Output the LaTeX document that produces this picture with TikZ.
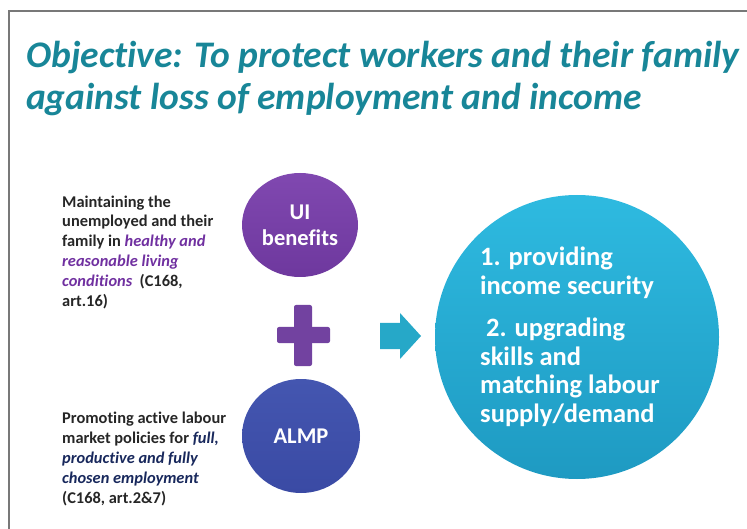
\documentclass[tikz,border=0pt]{standalone}
\usepackage{fontspec}
\setmainfont{Carlito}[Ligatures=NoCommon]
\usetikzlibrary{positioning,shapes.geometric}

\definecolor{titleteal}{RGB}{24,134,152}
\definecolor{framegray}{RGB}{120,120,120}
\definecolor{notegray}{RGB}{38,38,38}
\definecolor{uipurple}{RGB}{110,56,158}
\definecolor{uipurpletop}{RGB}{128,72,176}
\definecolor{almpblue}{RGB}{58,74,164}
\definecolor{almpbluetop}{RGB}{68,86,176}
\definecolor{goalcyan}{RGB}{30,154,194}
\definecolor{goalcyantop}{RGB}{46,186,224}
\definecolor{plusviolet}{RGB}{114,66,160}
\definecolor{arrowcyan}{RGB}{38,168,200}
\definecolor{hlpurple}{RGB}{112,48,160}
\definecolor{hlnavy}{RGB}{24,40,92}

\begin{document}
\begin{tikzpicture}[x=1pt, y=-1pt,
  note/.style={anchor=base west, align=left, inner sep=0pt, text=notegray,
    font=\fontsize{16.4}{20}\selectfont\bfseries},
  bubble/.style={ellipse, inner sep=0pt, align=center, text=white,
    font=\fontsize{22.5}{26}\selectfont\bfseries, shading=axis},
  goaltext/.style={anchor=base west, align=left, inner sep=0pt, text=white,
    font=\fontsize{26.5}{28.5}\selectfont\bfseries}]
  \useasboundingbox (0,0) rectangle (747,529);
  \draw[framegray, line width=1.2pt] (9,529) -- (9,11) -- (747,11);

  % anchors sit on the last line's baseline
  \node[anchor=base west, align=left, inner sep=0pt, text=titleteal,
    font=\fontsize{37.5}{42}\selectfont\bfseries\itshape] (title) at (26,110)
    {Objective: To protect workers and their family\\against loss of employment and income};

  % left notes
  \node[note] (keep) at (62,307) {Maintaining the\\unemployed and their\\family in \textcolor{hlpurple}{\itshape healthy and}\\\textcolor{hlpurple}{\itshape reasonable living}\\\textcolor{hlpurple}{\itshape conditions}~~(C168,\\art.16)};
  \node[note] (promote) at (62,503) {Promoting active labour\\market policies for \textcolor{hlnavy}{\itshape full,}\\\textcolor{hlnavy}{\itshape productive and fully}\\\textcolor{hlnavy}{\itshape chosen employment}\\(C168, art.2\&7)};

  % circles
  \node[bubble, top color=uipurpletop, bottom color=uipurple, minimum width=116pt, minimum height=104pt] (ui) at (300,225) {UI\\benefits};
  \node[bubble, top color=almpbluetop, bottom color=almpblue, minimum width=118pt, minimum height=114pt] (almp) at (301,436) {ALMP};
  \node[circle, shading=axis, top color=goalcyantop, bottom color=goalcyan, minimum size=284pt] (goal) at (577,337) {};
  \node[goaltext] (goals) at (480,422) {1. providing\\income security\\[14pt]\hspace{6pt}2. upgrading\\skills and\\matching labour\\supply/demand};

  % plus and arrow
  \fill[plusviolet, rounded corners=2pt] (277,327) rectangle (330,343);
  \fill[plusviolet, rounded corners=2pt] (294,305) rectangle (312,366);
  \fill[arrowcyan] (380,323) -- (400,323) -- (400,313) -- (421,336) -- (400,359) -- (400,349) -- (380,349) -- cycle;
\end{tikzpicture}
\end{document}
